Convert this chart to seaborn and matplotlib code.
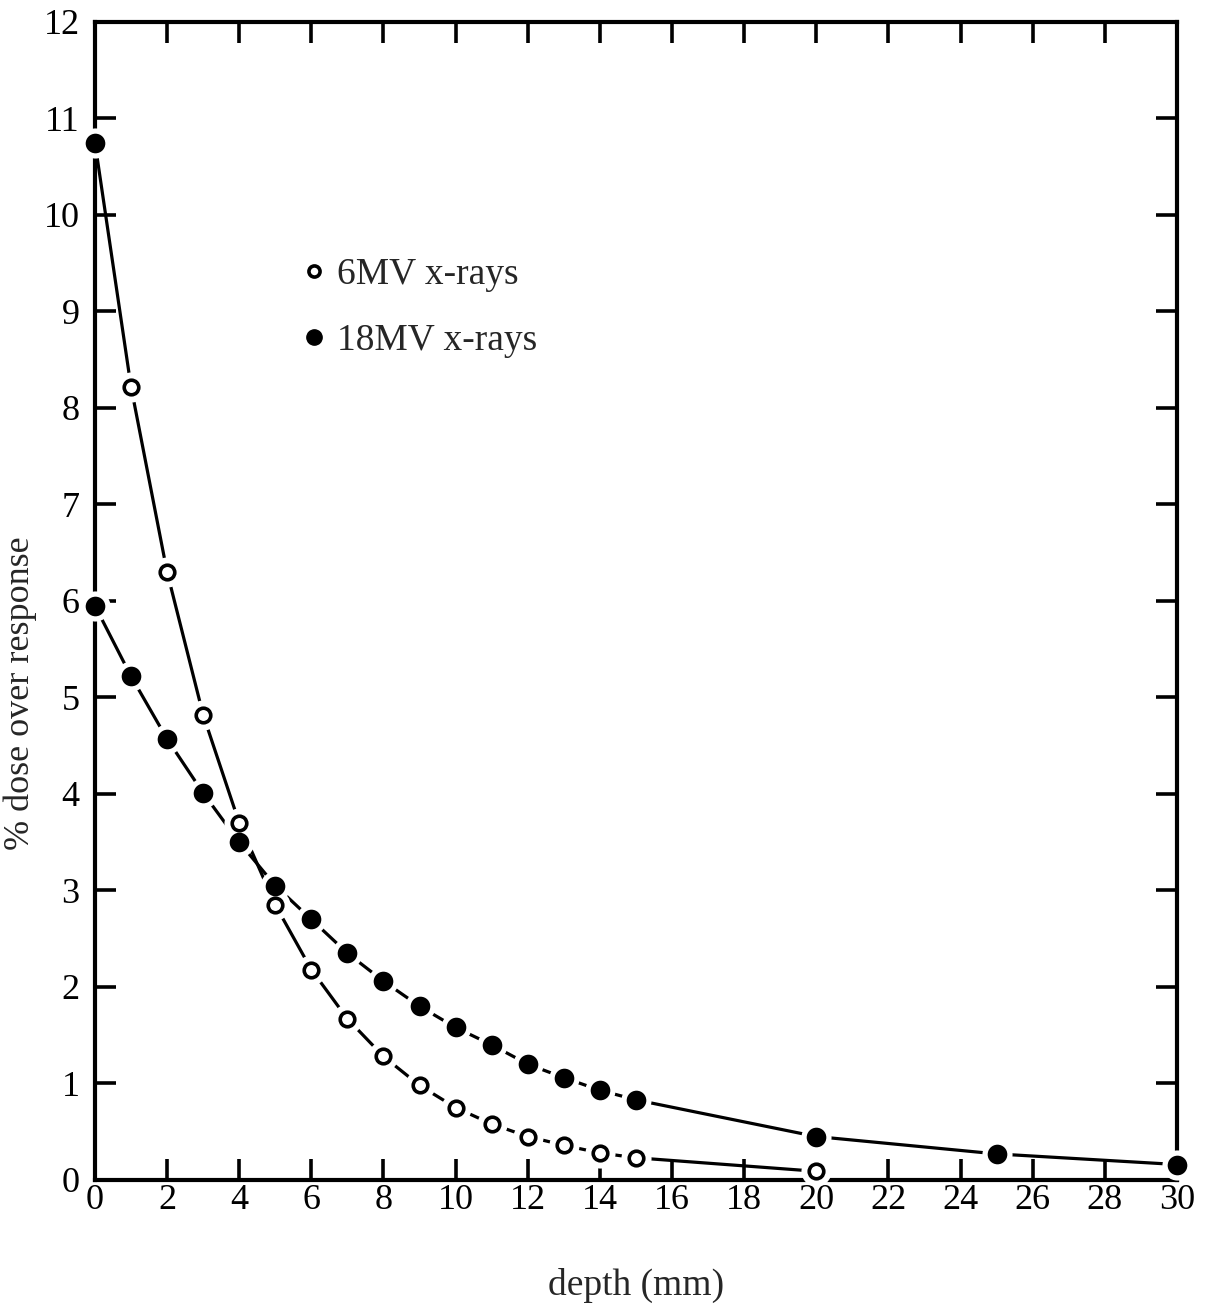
import matplotlib
matplotlib.use("Agg")
import matplotlib.pyplot as plt
from matplotlib.lines import Line2D
import seaborn as sns
import pandas as pd

sns.set_theme(style="white")
plt.rcParams["font.family"] = ["Liberation Serif", "DejaVu Serif"]

# depth (mm) and percentage dose over-response
depth_6mv = [0, 1, 2, 3, 4, 5, 6, 7, 8, 9, 10, 11, 12, 13, 14, 15, 20]
dose_6mv = [10.75, 8.22, 6.30, 4.82, 3.70, 2.85, 2.18, 1.67, 1.28, 0.98,
            0.75, 0.58, 0.45, 0.36, 0.28, 0.23, 0.09]

depth_18mv = [0, 1, 2, 3, 4, 5, 6, 7, 8, 9, 10, 11, 12, 13, 14, 15, 20, 25, 30]
dose_18mv = [5.95, 5.22, 4.57, 4.01, 3.50, 3.05, 2.70, 2.35, 2.06, 1.80,
             1.58, 1.40, 1.20, 1.06, 0.93, 0.83, 0.45, 0.27, 0.16]

series_labels = ["6MV x-rays", "18MV x-rays"]
x_ticks = list(range(0, 31, 2))
y_ticks = list(range(0, 13))

df6 = pd.DataFrame({"depth": depth_6mv, "dose": dose_6mv})
df18 = pd.DataFrame({"depth": depth_18mv, "dose": dose_18mv})

fig = plt.figure(figsize=(12.08, 13.14), dpi=100)
ax = fig.add_axes([0.0786, 0.102, 0.8957, 0.8813])

lw = 2.3
for d in (df6, df18):
    sns.lineplot(data=d, x="depth", y="dose", ax=ax, color="black",
                 linewidth=lw, sort=True, zorder=2, clip_on=False)
    # white halo separating the markers from the connecting line
    ax.scatter(d["depth"], d["dose"], s=470, color="white", zorder=3,
               linewidths=0, clip_on=False)

# 18MV: filled circles
sns.scatterplot(data=df18, x="depth", y="dose", ax=ax, s=200, color="black",
                edgecolor="black", linewidth=0, zorder=4, clip_on=False)
# 6MV: open circles (surface point shown filled)
sns.scatterplot(data=df6.iloc[1:], x="depth", y="dose", ax=ax, s=110,
                facecolor="white", edgecolor="black", linewidth=2.6,
                zorder=4, clip_on=False)
sns.scatterplot(data=df6.iloc[:1], x="depth", y="dose", ax=ax, s=200,
                color="black", linewidth=0, zorder=5, clip_on=False)

ax.set_xlim(0, 30)
ax.set_ylim(0, 12)
ax.set_xticks(x_ticks)
ax.set_yticks(y_ticks)
ax.tick_params(direction="in", length=15, width=2.6, labelsize=26,
               top=True, right=True, bottom=True, left=True,
               colors="black")
ax.tick_params(axis="x", pad=3)
ax.tick_params(axis="y", pad=11)
for s in ax.spines.values():
    s.set_linewidth(3)
    s.set_color("black")

ax.set_xlabel("depth (mm)", fontsize=27)
ax.set_ylabel("% dose over response", fontsize=26)
ax.xaxis.set_label_coords(0.5, -0.076)
ax.yaxis.set_label_coords(-0.054, 0.42)

handles = [
    Line2D([], [], linestyle="none", marker="o", markersize=8,
           markerfacecolor="white", markeredgecolor="black",
           markeredgewidth=2.6),
    Line2D([], [], linestyle="none", marker="o", markersize=11,
           markerfacecolor="black", markeredgecolor="black"),
]
ax.legend(handles, series_labels, loc="upper left",
          bbox_to_anchor=(0.164, 0.826), frameon=False, fontsize=27,
          handletextpad=0.41, labelspacing=0.85, handlelength=0.4)

fig.savefig("out.png", dpi=100, facecolor="white")
